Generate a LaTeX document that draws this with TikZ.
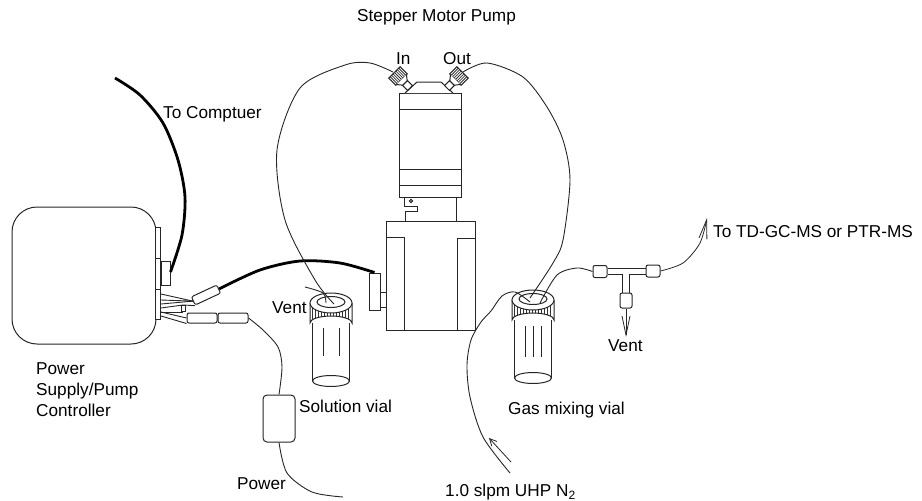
\documentclass[tikz,border=0pt]{standalone}
\usepackage{fontspec}
\setmainfont{Liberation Sans}
\usetikzlibrary{arrows.meta}
\tikzset{
  part/.style={draw=black!85, line width=1pt, inner sep=0pt, fill=white},
  sleeve/.style={part, rounded corners=2pt},
  wire/.style={line width=0.9pt, black!85},
  cable/.style={line width=2.8pt, black},
  flow/.style={line width=0.8pt, black!85, -{Straight Barb[length=19pt,width=8pt]}},
  shortflow/.style={line width=0.8pt, black!85, -{Straight Barb[length=7pt,width=7pt]}},
  label/.style={inner sep=0pt, anchor=west, font=\fontsize{17.2}{21}\selectfont, align=left},
  pics/vial/.style={code={
    \draw[part] (-18.5,20) -- (-18.5,78) (18.5,20) -- (18.5,78);
    \draw[part] (0,78) ellipse[x radius=18.5, y radius=5.5];
    \begin{scope}
      \clip (-21,0) -- (-21,20) arc[start angle=180, end angle=360, x radius=21, y radius=7] -- (21,0) -- cycle;
      \foreach \k in {-19,-16,...,19} \draw[line width=0.8pt, black!80] (\k,0) -- (\k,30);
    \end{scope}
    \draw[part, fill=none] (-21,0) -- (-21,20) arc[start angle=180, end angle=360, x radius=21, y radius=7] -- (21,0);
    \draw[part] (0,0) ellipse[x radius=21, y radius=10];
    \draw[part] (0,-1) ellipse[x radius=14, y radius=5.5];
  }},
  pics/fitting/.style={code={
    \draw[part] (-8,-5) rectangle (8,5);
    \foreach \k in {-6,-4,...,6} \draw[line width=0.8pt, black!80] (\k,-5) -- (\k,5);
    \draw[part] (-7,5) -- (-3,10) -- (3,10) -- (7,5);
    \draw[part] (-3.5,10) rectangle (3.5,17);
  }}
}
\begin{document}
\begin{tikzpicture}[x=1pt, y=-1pt]
  \useasboundingbox (0,0) rectangle (922,501);

  % controller
  \node[part, rounded corners=25pt, minimum width=144pt, minimum height=137pt] (controller) at (84,275.5) {};
  \node[part, minimum width=4.5pt, minimum height=92pt] (plate) at (158.2,273) {};
  \draw[part] (plate.west |- 0,258) -- (plate.east |- 0,258);
  \draw[part] (plate.west |- 0,289) -- (plate.east |- 0,289);
  \node[part, minimum width=9pt, minimum height=24pt] (plug) at (165.5,273) {};

  % sleeves and loose wires
  \node[sleeve, minimum width=28pt, minimum height=9pt, rotate=25] (pumpsleeve) at (206,295) {};
  \node[sleeve, minimum width=30pt, minimum height=10pt] (leftsleeve) at (202,318) {};
  \node[sleeve, minimum width=30pt, minimum height=10pt] (rightsleeve) at (233,318) {};
  \node[part, minimum width=4pt, minimum height=6pt] (fuse) at (183,308.5) {};
  \draw[wire] (plate.east |- 0,294) -- (pumpsleeve.west);
  \draw[wire] (plate.east |- 0,300) -- (pumpsleeve.west);
  \draw[wire] (plate.east |- 0,304) -- (pumpsleeve.west);
  \draw[wire] (plate.east |- 0,308) -- (fuse.north) -- (pumpsleeve.south west);
  \draw[wire] (plate.east |- 0,312) -- (fuse.south);
  \draw[wire] (plate.east |- 0,312) -- (leftsleeve.west);
  \draw[wire] (plate.east |- 0,316) -- (leftsleeve.south west);

  % pump
  \node[part, minimum width=62pt, minimum height=104pt] (pumpbody) at (430,145) {};
  \draw[part] (pumpbody.west |- 0,109) -- (pumpbody.east |- 0,109);
  \draw[part] (pumpbody.west |- 0,169) -- (pumpbody.east |- 0,169);
  \draw[part] (pumpbody.west |- 0,185) -- (pumpbody.east |- 0,185);
  \draw[part] (405,93) -- (417,82) -- (441,82) -- (453,93);
  \pic[rotate=45] at (398,76) {fitting};
  \pic[rotate=-45] at (459,76) {fitting};
  \node[part, minimum width=89pt, minimum height=109pt] (pumpbase) at (430.5,275.5) {};
  \node[part, minimum width=18pt, minimum height=93pt] (baseleft) at (395,283.5) {};
  \node[part, minimum width=18pt, minimum height=92pt] (baseright) at (466,284) {};
  \node[part, minimum width=11pt, minimum height=37pt] (pumpknob) at (374.5,291.5) {};
  \draw[part] (pumpknob.east |- 0,292) -- (pumpbase.west |- 0,292);
  \draw[part] (pumpknob.east |- 0,307.5) -- (pumpbase.west |- 0,307.5);
  \draw[part] (404,197) -- (404,206) -- (417,206) -- (417,211) -- (405,211) -- (405,221);
  \draw[part] (456,197) -- (456,221);
  \draw[part] (411,201) circle[radius=1.7];

  % vials
  \pic at (331,303) {vial};
  \pic at (533,300) {vial};
  \foreach \k in {323,339} \draw[wire] (\k,328) -- (\k,356);
  \foreach \k in {525,533,541} \draw[wire] (\k,326) -- (\k,357);

  % tee
  \node[sleeve, minimum width=14pt, minimum height=12pt] (teeleft) at (600,271.5) {};
  \node[sleeve, minimum width=14pt, minimum height=12pt] (teeright) at (653,271) {};
  \node[sleeve, minimum width=12pt, minimum height=15pt] (teedown) at (626,300.5) {};
  \draw[part] (teeleft.east |- 0,268) -- (teeright.west |- 0,268);
  \draw[part] (teeleft.east |- 0,274) -- (622.5,274) -- (622.5,293);
  \draw[part] (teeright.west |- 0,274) -- (629.5,274) -- (629.5,293);

  % power box
  \node[sleeve, rounded corners=4pt, minimum width=32pt, minimum height=47pt] (powerbox) at (279,418.5) {};

  % cables
  \coordinate (computer) at (115,78);
  \draw[cable] plot[smooth] coordinates {(computer) (140,95) (163,123) (178,160) (185,197) (182,235) (plug.east |- 0,272)};
  \draw[cable] plot[smooth] coordinates {(pumpsleeve.east) (260,270) (300,261) (340,263) (pumpknob.north)};

  % tubing
  \coordinate (solution) at (334,304);
  \coordinate (mixing) at (530,298);
  \draw[wire] plot[smooth] coordinates {(393,72) (370,63) (345,65) (300,88) (277,150) (285,220) (315,280) (solution)};
  \draw[wire] plot[smooth] coordinates {(463,72) (487,63) (523,77) (547,107) (563,140) (570,180) (563,240) (553,263) (mixing)};
  \coordinate (n2end) at (510,473);
  \draw[wire] plot[smooth, tension=0.5] coordinates {(n2end) (483,437) (470,397) (467,365) (471,340) (481,322) (491,311) (502,296) (515,292) (530,302)};
  \coordinate (ventwire) at (305,287);
  \draw[wire] plot[smooth] coordinates {(ventwire) (323,293) (326,303)};
  \draw[wire] plot[smooth] coordinates {(540,303) (557,275) (577,268) (teeleft.west)};
  \coordinate (toms) at (707,218);
  \draw[flow] plot[smooth] coordinates {(teeright.east) (683,263) (700,243) (toms)};
  \coordinate (ventend) at (626,337);
  \draw[flow] (teedown.south) -- (ventend);
  \coordinate (n2a) at (511,462);
  \coordinate (n2b) at (489,438);
  \draw[shortflow] (n2a) -- (n2b);
  \coordinate (powerend) at (343,497);
  \draw[wire] plot[smooth] coordinates {(rightsleeve.east) (263,330) (278,347) (282,367) (powerbox.north)};
  \draw[wire] plot[smooth] coordinates {(powerbox.south) (287,473) (312,492) (powerend)};

  % labels
  \node[label] (pumplabel) at (357,17) {Stepper Motor Pump};
  \node[label] (inlabel) at (396,59) {In};
  \node[label] (outlabel) at (443,59) {Out};
  \node[label] (computerlabel) at (163,114) {To Comptuer};
  \node[label] (controllerlabel) at (36,390) {Power\\Supply/Pump\\Controller};
  \node[label] (ventleft) at (272,308) {Vent};
  \node[label] (solutionlabel) at (299,406) {Solution vial};
  \node[label] (powerlabel) at (237,484) {Power};
  \node[label] (mixinglabel) at (508,410) {Gas mixing vial};
  \node[label] (gaslabel) at (445,492) {1.0 slpm UHP N\textsubscript{2}};
  \node[label] (ventright) at (608,346) {Vent};
  \node[label] (mslabel) at (713,232) {To TD-GC-MS or PTR-MS};
\end{tikzpicture}
\end{document}
